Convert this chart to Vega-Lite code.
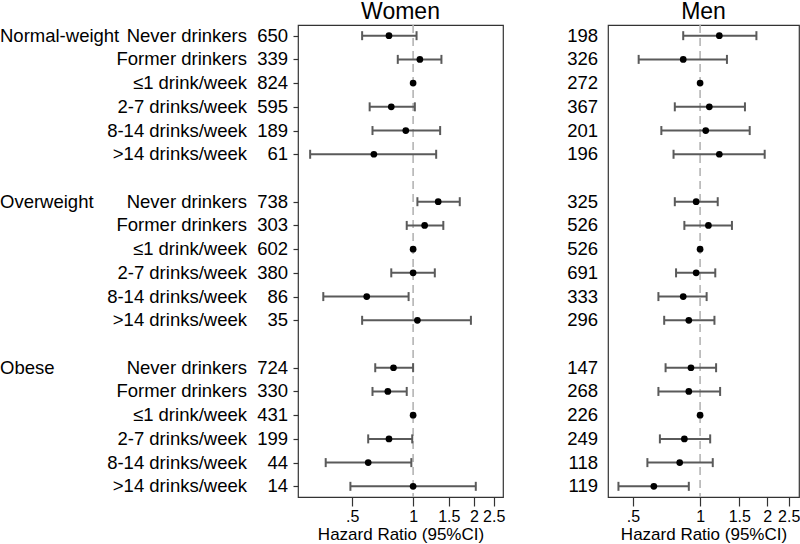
{
  "$schema": "https://vega.github.io/schema/vega-lite/v6.json",
  "padding": {"left": 0, "top": 0, "right": 0, "bottom": 0},
  "background": "white",
  "bounds": "flush",
  "spacing": 10,
  "resolve": {"scale": {"x": "independent", "y": "independent"}},
  "config": {
    "font": "Liberation Sans",
    "view": {"stroke": "#333333", "strokeWidth": 1.2},
    "title": {"fontSize": 23, "fontWeight": "normal", "color": "#000000", "anchor": "middle", "font": "Liberation Sans"},
    "axis": {"labelFont": "Liberation Sans", "titleFont": "Liberation Sans", "labelColor": "#000000", "titleColor": "#000000", "titleFontWeight": "normal", "grid": false, "domain": false, "tickColor": "#333333", "tickWidth": 1.2},
    "axisX": {"tickSize": 9, "labelFontSize": 16, "titleFontSize": 17, "labelPadding": 2, "titlePadding": 2, "labelOverlap": false, "labelFlush": false},
    "text": {"font": "Liberation Sans", "fontSize": 18.5, "color": "#000000", "baseline": "middle"}
  },
  "datasets": {
    "groups": [
      {"row": 1, "group": "Normal-weight"},
      {"row": 8, "group": "Overweight"},
      {"row": 15, "group": "Obese"}
    ],
    "hr": [
      {"sex": "Women", "row": 1, "cat": "Never drinkers", "n": "650", "hr": 0.76, "lo": 0.56, "hi": 1.04},
      {"sex": "Women", "row": 2, "cat": "Former drinkers", "n": "339", "hr": 1.08, "lo": 0.84, "hi": 1.38},
      {"sex": "Women", "row": 3, "cat": "≤1 drink/week", "n": "824", "hr": 1.0, "lo": null, "hi": null},
      {"sex": "Women", "row": 4, "cat": "2-7 drinks/week", "n": "595", "hr": 0.78, "lo": 0.61, "hi": 1.02},
      {"sex": "Women", "row": 5, "cat": "8-14 drinks/week", "n": "189", "hr": 0.92, "lo": 0.63, "hi": 1.36},
      {"sex": "Women", "row": 6, "cat": ">14 drinks/week", "n": "61", "hr": 0.64, "lo": 0.31, "hi": 1.3},
      {"sex": "Women", "row": 8, "cat": "Never drinkers", "n": "738", "hr": 1.33, "lo": 1.05, "hi": 1.7},
      {"sex": "Women", "row": 9, "cat": "Former drinkers", "n": "303", "hr": 1.14, "lo": 0.93, "hi": 1.41},
      {"sex": "Women", "row": 10, "cat": "≤1 drink/week", "n": "602", "hr": 1.0, "lo": null, "hi": null},
      {"sex": "Women", "row": 11, "cat": "2-7 drinks/week", "n": "380", "hr": 1.0, "lo": 0.78, "hi": 1.28},
      {"sex": "Women", "row": 12, "cat": "8-14 drinks/week", "n": "86", "hr": 0.59, "lo": 0.36, "hi": 0.95},
      {"sex": "Women", "row": 13, "cat": ">14 drinks/week", "n": "35", "hr": 1.05, "lo": 0.56, "hi": 1.93},
      {"sex": "Women", "row": 15, "cat": "Never drinkers", "n": "724", "hr": 0.8, "lo": 0.65, "hi": 1.0},
      {"sex": "Women", "row": 16, "cat": "Former drinkers", "n": "330", "hr": 0.75, "lo": 0.63, "hi": 0.93},
      {"sex": "Women", "row": 17, "cat": "≤1 drink/week", "n": "431", "hr": 1.0, "lo": null, "hi": null},
      {"sex": "Women", "row": 18, "cat": "2-7 drinks/week", "n": "199", "hr": 0.76, "lo": 0.6, "hi": 0.99},
      {"sex": "Women", "row": 19, "cat": "8-14 drinks/week", "n": "44", "hr": 0.6, "lo": 0.37, "hi": 0.98},
      {"sex": "Women", "row": 20, "cat": ">14 drinks/week", "n": "14", "hr": 1.0, "lo": 0.49, "hi": 2.04},
      {"sex": "Men", "row": 1, "cat": "Never drinkers", "n": "198", "hr": 1.22, "lo": 0.84, "hi": 1.79},
      {"sex": "Men", "row": 2, "cat": "Former drinkers", "n": "326", "hr": 0.84, "lo": 0.53, "hi": 1.32},
      {"sex": "Men", "row": 3, "cat": "≤1 drink/week", "n": "272", "hr": 1.0, "lo": null, "hi": null},
      {"sex": "Men", "row": 4, "cat": "2-7 drinks/week", "n": "367", "hr": 1.1, "lo": 0.77, "hi": 1.59},
      {"sex": "Men", "row": 5, "cat": "8-14 drinks/week", "n": "201", "hr": 1.06, "lo": 0.67, "hi": 1.67},
      {"sex": "Men", "row": 6, "cat": ">14 drinks/week", "n": "196", "hr": 1.22, "lo": 0.76, "hi": 1.95},
      {"sex": "Men", "row": 8, "cat": "Never drinkers", "n": "325", "hr": 0.96, "lo": 0.77, "hi": 1.2},
      {"sex": "Men", "row": 9, "cat": "Former drinkers", "n": "526", "hr": 1.09, "lo": 0.85, "hi": 1.39},
      {"sex": "Men", "row": 10, "cat": "≤1 drink/week", "n": "526", "hr": 1.0, "lo": null, "hi": null},
      {"sex": "Men", "row": 11, "cat": "2-7 drinks/week", "n": "691", "hr": 0.96, "lo": 0.78, "hi": 1.17},
      {"sex": "Men", "row": 12, "cat": "8-14 drinks/week", "n": "333", "hr": 0.84, "lo": 0.65, "hi": 1.07},
      {"sex": "Men", "row": 13, "cat": ">14 drinks/week", "n": "296", "hr": 0.89, "lo": 0.69, "hi": 1.16},
      {"sex": "Men", "row": 15, "cat": "Never drinkers", "n": "147", "hr": 0.91, "lo": 0.7, "hi": 1.18},
      {"sex": "Men", "row": 16, "cat": "Former drinkers", "n": "268", "hr": 0.89, "lo": 0.65, "hi": 1.23},
      {"sex": "Men", "row": 17, "cat": "≤1 drink/week", "n": "226", "hr": 1.0, "lo": null, "hi": null},
      {"sex": "Men", "row": 18, "cat": "2-7 drinks/week", "n": "249", "hr": 0.85, "lo": 0.66, "hi": 1.11},
      {"sex": "Men", "row": 19, "cat": "8-14 drinks/week", "n": "118", "hr": 0.81, "lo": 0.58, "hi": 1.14},
      {"sex": "Men", "row": 20, "cat": ">14 drinks/week", "n": "119", "hr": 0.62, "lo": 0.43, "hi": 0.89}
    ]
  },
  "hconcat": [
    {
      "width": 247,
      "height": 472,
      "view": {"stroke": null},
      "layer": [
        {
          "data": {"name": "groups"},
          "mark": {"type": "text", "align": "left"},
          "encoding": {
            "y": {"field": "row", "type": "ordinal", "scale": {"type": "point", "domain": [1,2,3,4,5,6,7,8,9,10,11,12,13,14,15,16,17,18,19,20], "padding": 0.45}, "axis": null},
            "x": {"value": 0},
            "text": {"field": "group"}
          }
        },
        {
          "data": {"name": "hr"},
          "transform": [{"filter": "datum.sex == 'Women'"}],
          "mark": {"type": "text", "align": "right"},
          "encoding": {
            "y": {"field": "row", "type": "ordinal", "scale": {"type": "point", "domain": [1,2,3,4,5,6,7,8,9,10,11,12,13,14,15,16,17,18,19,20], "padding": 0.45}, "axis": null},
            "x": {"value": "width"},
            "text": {"field": "cat"}
          }
        }
      ]
    },
    {
      "width": 31,
      "height": 472,
      "view": {"stroke": null},
      "data": {"name": "hr"},
      "transform": [{"filter": "datum.sex == 'Women'"}],
      "mark": {"type": "text", "align": "right"},
      "encoding": {
        "y": {"field": "row", "type": "ordinal", "scale": {"type": "point", "domain": [1,2,3,4,5,6,7,8,9,10,11,12,13,14,15,16,17,18,19,20], "padding": 0.45}, "axis": null},
        "x": {"value": "width"},
        "text": {"field": "n"}
      }
    },
    {
      "width": 205,
      "height": 472,
      "title": {"text": "Women", "offset": 0.5},
      "layer": [
        {
          "data": {"values": [{"ref": 1}]},
          "mark": {"type": "rule", "color": "#b4b4b4", "strokeWidth": 1.6, "strokeDash": [8, 5]},
          "encoding": {
            "x": {"field": "ref", "type": "quantitative", "scale": {"type": "log", "domain": [0.27, 2.78], "nice": false, "zero": false}, "axis": {"values": [0.5, 1, 1.5, 2, 2.5], "format": "~g", "labelExpr": "replace(datum.label, '0.', '.')", "title": "Hazard Ratio (95%CI)"}}
          }
        },
        {
          "data": {"name": "hr"},
          "transform": [{"filter": "datum.sex == 'Women'"}],
          "layer": [
            {
              "mark": {"type": "rule", "color": "#5a5a5a", "strokeWidth": 2},
              "encoding": {
                "y": {"field": "row", "type": "ordinal", "scale": {"type": "point", "domain": [1,2,3,4,5,6,7,8,9,10,11,12,13,14,15,16,17,18,19,20], "padding": 0.45}, "axis": {"labels": false, "ticks": true, "tickSize": 5, "title": null, "values": [1,2,3,4,5,6,8,9,10,11,12,13,15,16,17,18,19,20]}},
                "x": {"field": "lo", "type": "quantitative", "scale": {"type": "log", "domain": [0.27, 2.78], "nice": false, "zero": false}},
                "x2": {"field": "hi"}
              }
            },
            {
              "mark": {"type": "tick", "color": "#5a5a5a", "thickness": 2, "size": 9, "opacity": 1},
              "encoding": {
                "y": {"field": "row", "type": "ordinal", "scale": {"type": "point", "domain": [1,2,3,4,5,6,7,8,9,10,11,12,13,14,15,16,17,18,19,20], "padding": 0.45}},
                "x": {"field": "lo", "type": "quantitative", "scale": {"type": "log", "domain": [0.27, 2.78], "nice": false, "zero": false}}
              }
            },
            {
              "mark": {"type": "tick", "color": "#5a5a5a", "thickness": 2, "size": 9, "opacity": 1},
              "encoding": {
                "y": {"field": "row", "type": "ordinal", "scale": {"type": "point", "domain": [1,2,3,4,5,6,7,8,9,10,11,12,13,14,15,16,17,18,19,20], "padding": 0.45}},
                "x": {"field": "hi", "type": "quantitative", "scale": {"type": "log", "domain": [0.27, 2.78], "nice": false, "zero": false}}
              }
            },
            {
              "mark": {"type": "point", "filled": true, "shape": "circle", "size": 45, "color": "#000000", "opacity": 1},
              "encoding": {
                "y": {"field": "row", "type": "ordinal", "scale": {"type": "point", "domain": [1,2,3,4,5,6,7,8,9,10,11,12,13,14,15,16,17,18,19,20], "padding": 0.45}},
                "x": {"field": "hr", "type": "quantitative", "scale": {"type": "log", "domain": [0.27, 2.78], "nice": false, "zero": false}}
              }
            }
          ]
        }
      ]
    },
    {
      "width": 85,
      "height": 472,
      "view": {"stroke": null},
      "data": {"name": "hr"},
      "transform": [{"filter": "datum.sex == 'Men'"}],
      "mark": {"type": "text", "align": "right"},
      "encoding": {
        "y": {"field": "row", "type": "ordinal", "scale": {"type": "point", "domain": [1,2,3,4,5,6,7,8,9,10,11,12,13,14,15,16,17,18,19,20], "padding": 0.45}, "axis": null},
        "x": {"value": "width"},
        "text": {"field": "n"}
      }
    },
    {
      "width": 191,
      "height": 472,
      "title": {"text": "Men", "offset": 0.5},
      "layer": [
        {
          "data": {"values": [{"ref": 1}]},
          "mark": {"type": "rule", "color": "#b4b4b4", "strokeWidth": 1.6, "strokeDash": [8, 5]},
          "encoding": {
            "x": {"field": "ref", "type": "quantitative", "scale": {"type": "log", "domain": [0.386, 2.78], "nice": false, "zero": false}, "axis": {"values": [0.5, 1, 1.5, 2, 2.5], "format": "~g", "labelExpr": "replace(datum.label, '0.', '.')", "title": "Hazard Ratio (95%CI)"}}
          }
        },
        {
          "data": {"name": "hr"},
          "transform": [{"filter": "datum.sex == 'Men'"}],
          "layer": [
            {
              "mark": {"type": "rule", "color": "#5a5a5a", "strokeWidth": 2},
              "encoding": {
                "y": {"field": "row", "type": "ordinal", "scale": {"type": "point", "domain": [1,2,3,4,5,6,7,8,9,10,11,12,13,14,15,16,17,18,19,20], "padding": 0.45}, "axis": null},
                "x": {"field": "lo", "type": "quantitative", "scale": {"type": "log", "domain": [0.386, 2.78], "nice": false, "zero": false}},
                "x2": {"field": "hi"}
              }
            },
            {
              "mark": {"type": "tick", "color": "#5a5a5a", "thickness": 2, "size": 9, "opacity": 1},
              "encoding": {
                "y": {"field": "row", "type": "ordinal", "scale": {"type": "point", "domain": [1,2,3,4,5,6,7,8,9,10,11,12,13,14,15,16,17,18,19,20], "padding": 0.45}, "axis": null},
                "x": {"field": "lo", "type": "quantitative", "scale": {"type": "log", "domain": [0.386, 2.78], "nice": false, "zero": false}}
              }
            },
            {
              "mark": {"type": "tick", "color": "#5a5a5a", "thickness": 2, "size": 9, "opacity": 1},
              "encoding": {
                "y": {"field": "row", "type": "ordinal", "scale": {"type": "point", "domain": [1,2,3,4,5,6,7,8,9,10,11,12,13,14,15,16,17,18,19,20], "padding": 0.45}, "axis": null},
                "x": {"field": "hi", "type": "quantitative", "scale": {"type": "log", "domain": [0.386, 2.78], "nice": false, "zero": false}}
              }
            },
            {
              "mark": {"type": "point", "filled": true, "shape": "circle", "size": 45, "color": "#000000", "opacity": 1},
              "encoding": {
                "y": {"field": "row", "type": "ordinal", "scale": {"type": "point", "domain": [1,2,3,4,5,6,7,8,9,10,11,12,13,14,15,16,17,18,19,20], "padding": 0.45}, "axis": null},
                "x": {"field": "hr", "type": "quantitative", "scale": {"type": "log", "domain": [0.386, 2.78], "nice": false, "zero": false}}
              }
            }
          ]
        }
      ]
    }
  ]
}
